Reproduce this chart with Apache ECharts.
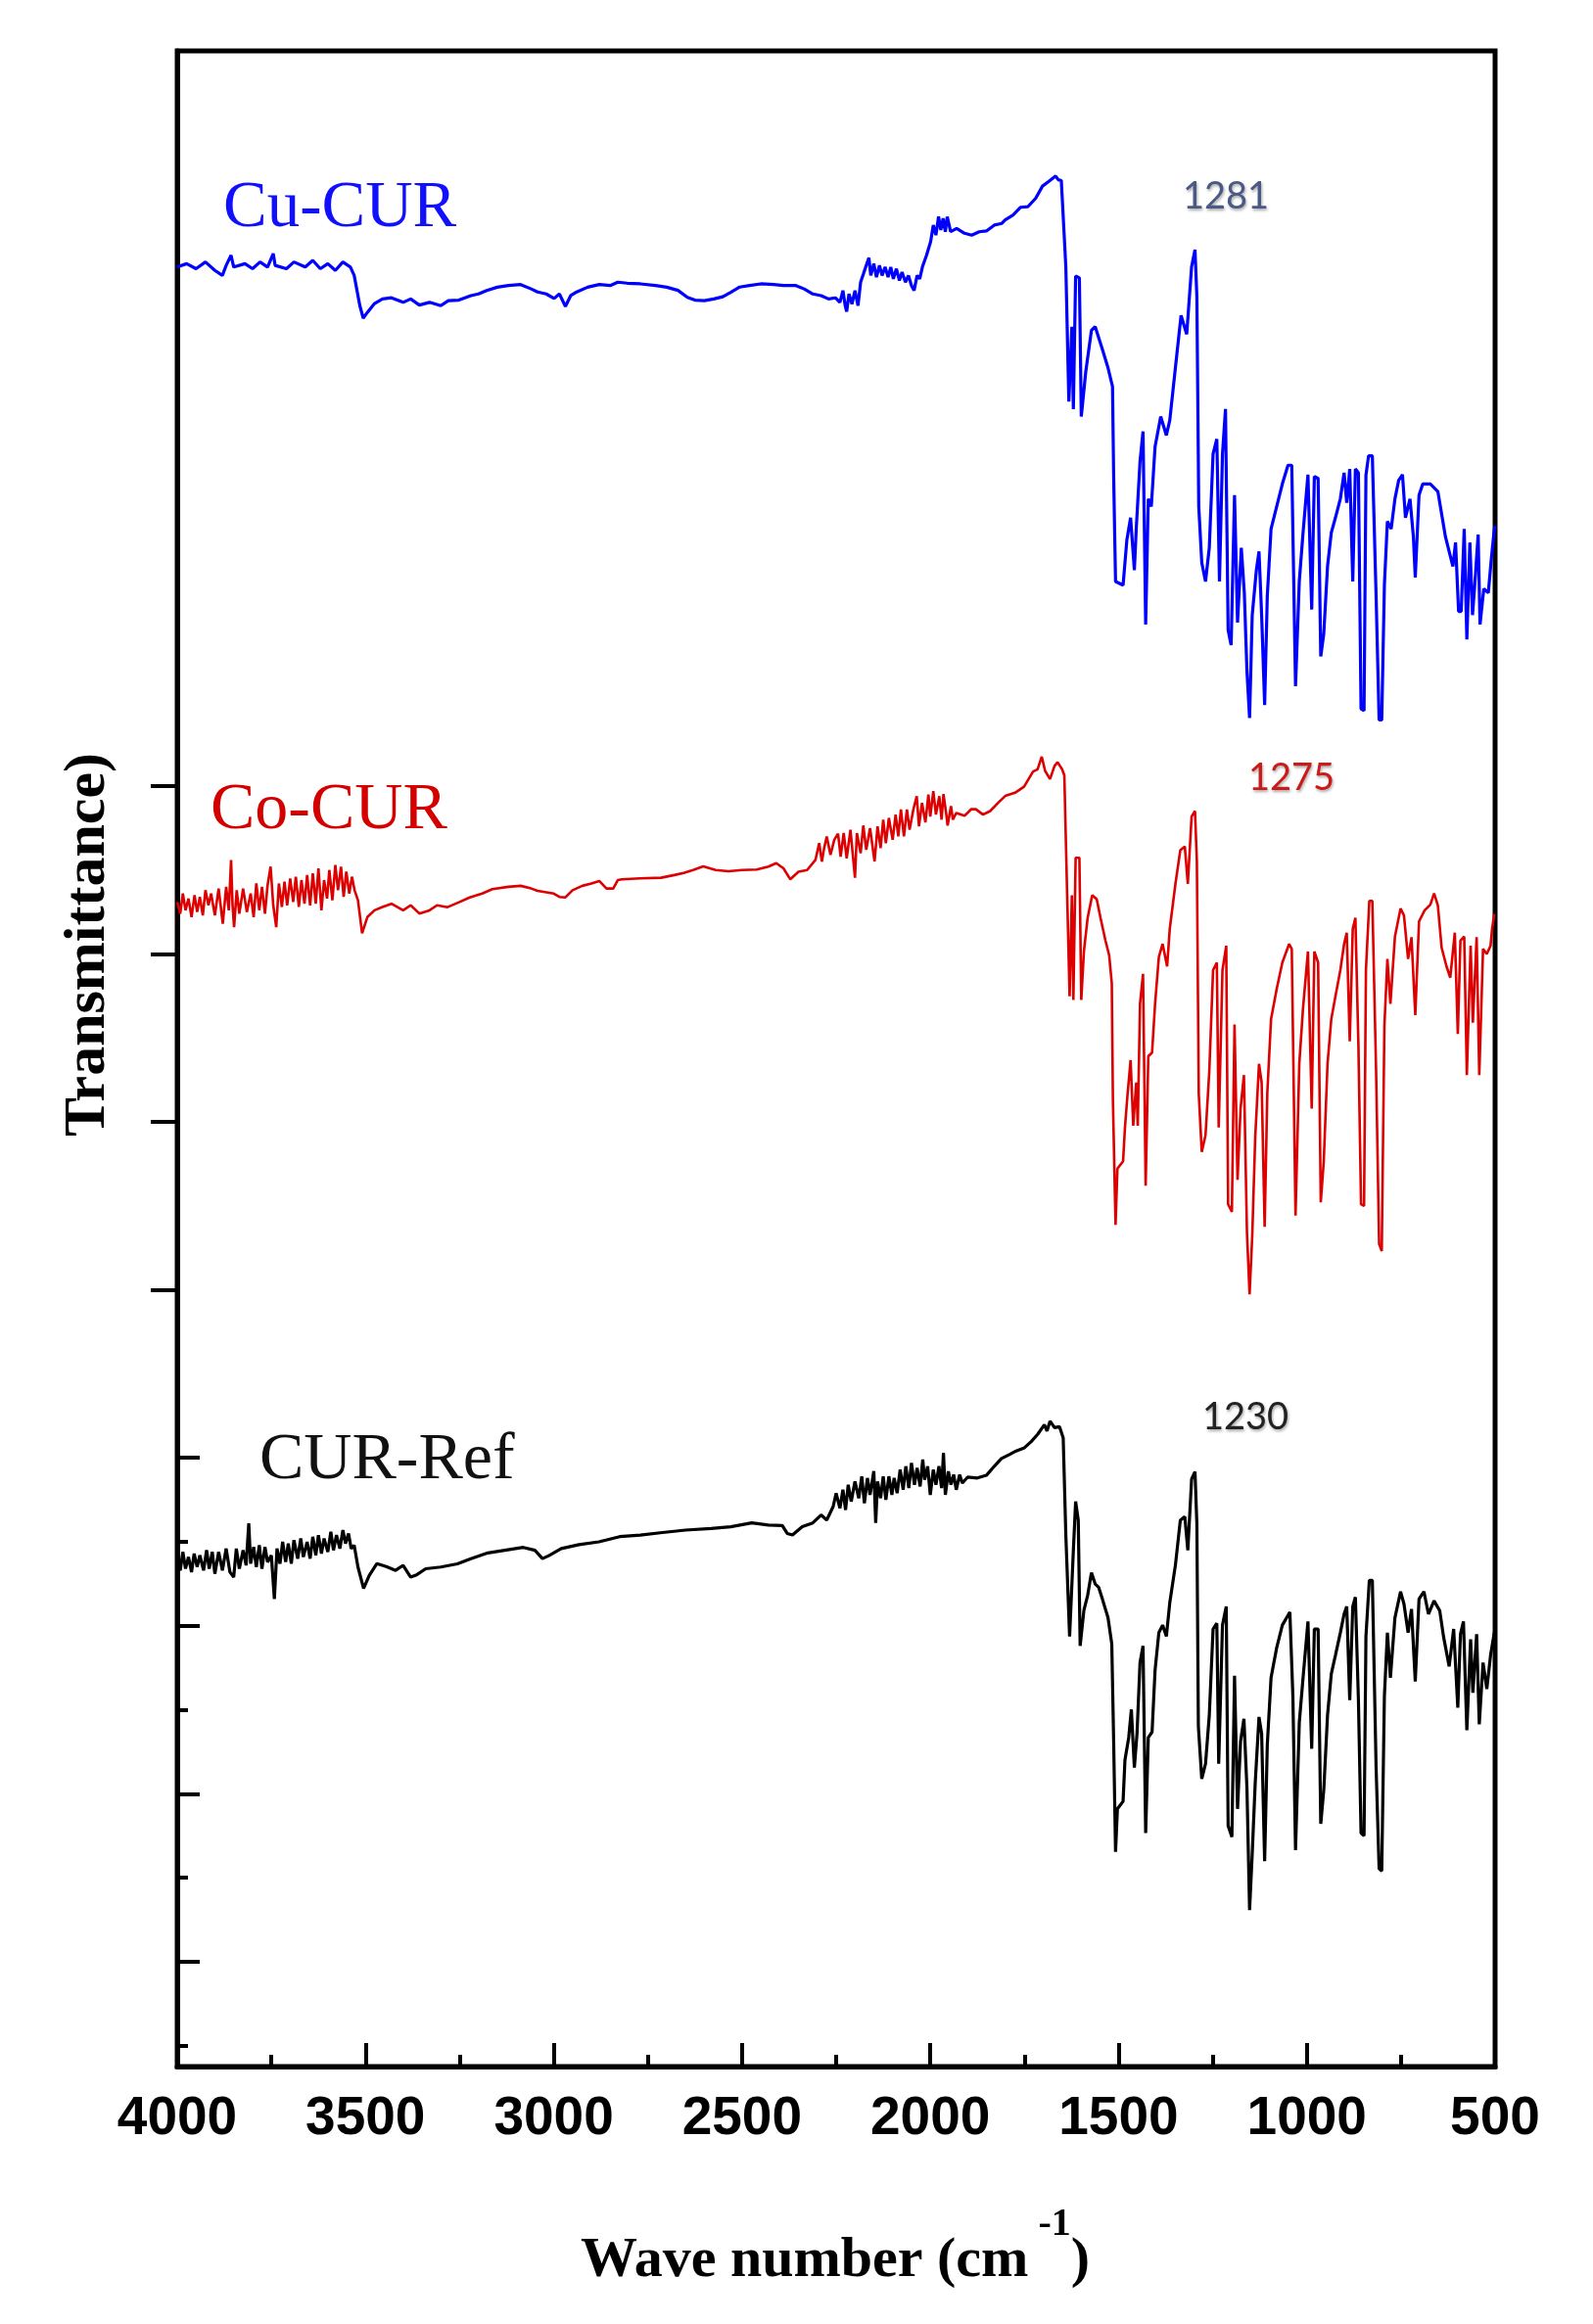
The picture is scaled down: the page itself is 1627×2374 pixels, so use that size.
<!DOCTYPE html>
<html>
<head>
<meta charset="utf-8">
<script src="https://cdn.jsdelivr.net/npm/echarts@6/dist/echarts.min.js"></script>
<style>
html,body{margin:0;padding:0;background:#fff;}
#chart{width:1627px;height:2374px;}
</style>
</head>
<body>
<div id="chart"></div>
<script>
// x: wave number (cm-1), y: transmittance (arbitrary, stacked offsets)
const xTicks = [500, 1000, 1500, 2000, 2500, 3000, 3500, 4000];
const yOuterTicks = [50, 60, 70, 80];
const yInnerMajorTicks = [10, 20, 30, 40];
const yInnerMinorTicks = [5, 15, 25, 35];

const cuCurData = [
[4000,110.9],[3975,111.1],[3950,110.8],[3925,111.2],[3900,110.7],[3880,110.4],[3870,111.0],[3857,111.6],[3850,110.9],[3820,111.1],[3800,110.8],[3780,111.2],[3760,110.9],[3745,111.7],[3740,111.0],[3710,110.8],[3690,111.2],[3660,110.9],[3640,111.3],[3620,110.8],[3600,111.1],[3580,110.7],[3560,111.2],[3540,110.9],[3530,110.4],[3515,108.6],[3506,107.86],[3495,108.2],[3476,108.73],[3455,109.0],[3431,109.07],[3400,108.8],[3380,109.0],[3357,108.64],[3330,108.8],[3300,108.6],[3280,108.9],[3252,108.93],[3220,109.2],[3200,109.3],[3178,109.51],[3150,109.7],[3120,109.8],[3088,109.86],[3060,109.6],[3043,109.42],[3020,109.3],[2999,109.03],[2985,109.3],[2969,108.56],[2955,109.2],[2939,109.42],[2910,109.7],[2879,109.86],[2850,109.8],[2830,110.0],[2805,109.94],[2770,109.9],[2730,109.80],[2700,109.7],[2670,109.51],[2645,109.1],[2625,108.93],[2600,108.9],[2575,109.0],[2551,109.13],[2530,109.4],[2506,109.71],[2480,109.8],[2450,109.9],[2416,109.86],[2390,109.8],[2357,109.80],[2335,109.6],[2312,109.30],[2290,109.2],[2270,109.0],[2252,109.07],[2240,108.8],[2232,109.5],[2226,108.6],[2222,108.25],[2216,109.3],[2208,108.7],[2200,109.5],[2192,108.6],[2185,110.0],[2178,110.46],[2170,111.0],[2163,111.45],[2158,110.4],[2150,111.1],[2143,110.3],[2135,111.0],[2128,110.4],[2120,110.9],[2112,110.3],[2105,110.9],[2098,110.2],[2090,110.8],[2082,110.1],[2075,110.6],[2066,110.0],[2058,110.4],[2050,109.8],[2043,109.51],[2035,110.4],[2028,110.2],[2021,110.9],[2010,111.6],[1999,112.42],[1992,113.4],[1985,112.8],[1978,113.9],[1972,113.1],[1966,113.8],[1960,113.0],[1955,113.9],[1946,113.01],[1930,113.2],[1909,112.91],[1890,112.8],[1870,113.0],[1851,113.05],[1830,113.4],[1810,113.5],[1801,113.71],[1780,114.0],[1760,114.46],[1741,114.49],[1720,115.0],[1702,115.72],[1685,116.0],[1667,116.32],[1660,116.1],[1652,116.05],
[1640,110.92],[1632,102.89],[1624,107.35],[1620,102.44],[1614,110.37],[1604,110.25],[1599,102.0],[1587,104.68],[1572,107.13],[1562,107.35],[1543,106.01],[1528,104.9],[1516,103.78],[1513,98.43],[1508,92.18],[1488,91.96],[1478,94.64],[1468,95.98],[1458,92.85],[1453,95.31],[1443,99.32],[1435,101.11],[1428,89.62],[1421,97.10],[1413,96.65],[1403,100.21],[1388,102.0],[1373,100.88],[1364,101.77],[1348,105.12],[1334,108.02],[1319,106.9],[1306,110.92],[1297,111.93],[1292,109.14],[1287,96.65],[1279,93.30],[1269,92.18],[1259,94.19],[1249,99.77],[1239,100.66],[1232,92.18],[1224,99.77],[1216,102.45],[1209,89.29],[1201,88.39],[1192,97.32],[1184,89.74],[1174,94.19],[1166,91.52],[1159,86.83],[1152,84.05],[1145,90.18],[1134,92.85],[1127,93.97],[1120,90.18],[1112,84.83],[1105,91.30],[1095,95.31],[1080,96.65],[1065,97.99],[1050,99.10],[1040,99.10],[1030,85.94],[1020,92.18],[1010,95.09],[997,98.54],[987,90.51],[980,98.43],[970,98.32],[963,87.72],[955,89.06],[945,93.08],[935,95.09],[924,95.98],[911,97.10],[901,98.65],[894,96.87],[886,98.88],[878,92.18],[871,98.88],[863,98.65],[856,84.60],[848,84.49],[843,98.5],[836,99.66],[826,99.66],[816,91.30],[808,83.94],[801,83.94],[794,91.96],[786,95.76],[776,95.31],[766,97.10],[756,98.21],[746,98.54],[738,95.98],[726,97.10],[717,94.86],[712,92.41],[702,97.32],[692,97.99],[672,97.99],[652,97.54],[642,96.20],[632,94.86],[622,93.97],[612,93.08],[605,94.5],[597,90.40],[590,90.40],[582,95.31],[575,88.73],[567,94.5],[560,90.18],[552,92.63],[545,94.97],[540,89.62],[530,91.74],[518,91.5],[510,93.53],[503,95.09],[500,95.5]
];

const coCurData = [
[4000,73.1],[3992,72.4],[3985,73.6],[3978,72.6],[3970,73.3],[3962,72.2],[3954,73.5],[3947,72.5],[3940,73.4],[3932,72.3],[3925,73.8],[3917,72.9],[3910,73.6],[3900,72.3],[3890,73.9],[3879,71.8],[3870,74.0],[3863,72.6],[3857,75.6],[3853,72.9],[3849,71.6],[3842,73.8],[3835,72.4],[3825,73.9],[3815,72.5],[3805,73.6],[3797,72.2],[3790,74.2],[3782,72.6],[3775,74.0],[3767,72.4],[3760,74.1],[3752,75.2],[3745,72.9],[3737,71.6],[3730,74.2],[3722,72.8],[3715,74.3],[3708,72.9],[3700,74.5],[3692,73.1],[3685,74.6],[3677,72.8],[3670,74.4],[3662,73.0],[3655,74.7],[3647,72.9],[3640,74.8],[3632,73.0],[3625,75.1],[3617,72.6],[3610,74.4],[3602,73.3],[3596,75.0],[3588,73.2],[3580,75.3],[3573,73.8],[3565,75.2],[3558,73.4],[3551,74.9],[3543,73.6],[3536,74.6],[3529,73.8],[3520,73.2],[3509,71.24],[3495,72.2],[3476,72.60],[3455,72.8],[3431,72.99],[3400,72.6],[3380,72.9],[3357,72.41],[3330,72.6],[3310,72.9],[3282,72.79],[3250,73.1],[3223,73.37],[3190,73.6],[3163,73.86],[3120,74.0],[3088,74.06],[3060,73.9],[3043,73.76],[3000,73.6],[2985,73.4],[2969,73.37],[2950,73.8],[2924,74.06],[2900,74.2],[2879,74.35],[2860,73.9],[2842,73.9],[2830,74.4],[2819,74.45],[2770,74.5],[2715,74.54],[2680,74.7],[2655,74.83],[2630,75.0],[2603,75.22],[2570,75.0],[2536,74.93],[2500,75.0],[2461,75.03],[2430,75.2],[2409,75.41],[2390,75.1],[2372,74.45],[2350,74.9],[2327,75.0],[2305,75.6],[2295,76.6],[2288,75.5],[2282,76.3],[2275,77.0],[2265,75.9],[2255,76.8],[2245,77.16],[2238,75.8],[2230,77.2],[2222,75.7],[2212,77.4],[2200,74.54],[2195,77.2],[2185,76.0],[2178,77.65],[2170,76.2],[2160,77.5],[2148,75.51],[2140,77.6],[2132,76.3],[2125,78.0],[2118,76.6],[2110,78.1],[2100,76.8],[2092,78.3],[2085,77.0],[2078,78.6],[2070,77.0],[2062,78.6],[2055,77.4],[2045,78.6],[2036,79.40],[2030,77.6],[2022,79.0],[2013,77.84],[2005,79.5],[2000,78.18],[1992,79.7],[1985,78.3],[1976,79.4],[1970,78.0],[1965,79.52],[1958,78.4],[1954,77.65],[1945,78.8],[1940,78.0],[1931,78.4],[1909,78.23],[1891,78.63],[1879,78.62],[1860,78.3],[1841,78.51],[1820,79.0],[1801,79.41],[1775,79.6],[1751,79.96],[1727,80.86],[1715,81.0],[1704,81.75],[1695,80.9],[1682,80.41],[1670,81.2],[1662,81.42],[1650,81.0],[1644,80.64],
[1639,75.84],[1630,67.48],[1624,73.50],[1620,67.26],[1614,75.73],[1604,75.73],[1599,67.26],[1592,70.15],[1582,72.16],[1570,73.50],[1558,73.27],[1548,72.16],[1535,70.82],[1525,69.93],[1518,68.26],[1515,61.34],[1508,53.87],[1503,57.22],[1488,57.66],[1483,59.67],[1476,61.68],[1468,63.68],[1461,59.78],[1453,62.35],[1449,59.78],[1443,67.03],[1435,68.82],[1428,56.21],[1421,63.91],[1411,64.13],[1403,67.03],[1393,69.82],[1383,70.60],[1371,69.26],[1364,71.49],[1349,74.17],[1336,76.18],[1324,76.40],[1316,74.17],[1306,78.18],[1297,78.51],[1292,75.51],[1287,61.68],[1279,58.22],[1269,59.22],[1259,63.02],[1249,69.04],[1239,69.49],[1234,59.67],[1224,69.04],[1214,70.49],[1209,55.10],[1199,54.65],[1192,65.80],[1184,56.55],[1176,60.79],[1167,62.79],[1159,53.42],[1152,49.74],[1145,53.20],[1137,59.11],[1127,63.46],[1120,62.35],[1112,53.75],[1105,61.68],[1095,66.13],[1080,67.92],[1065,69.49],[1047,70.60],[1040,70.3],[1030,54.43],[1020,63.46],[1010,66.80],[997,70.15],[987,60.79],[980,70.15],[970,69.49],[963,55.21],[955,57.66],[945,63.46],[935,66.13],[924,67.48],[911,69.04],[901,70.60],[894,71.27],[886,64.80],[878,71.49],[871,72.16],[863,64.58],[856,55.10],[848,55.0],[843,69.04],[834,73.16],[826,73.16],[816,63.02],[808,52.75],[801,52.31],[794,65.69],[786,69.71],[778,67.03],[766,71.04],[751,72.71],[742,72.3],[731,69.71],[722,71.0],[712,66.36],[702,71.94],[687,72.60],[672,72.94],[662,73.61],[652,72.9],[642,70.38],[629,69.26],[619,68.59],[607,71.27],[599,65.24],[592,70.8],[582,71.04],[575,62.79],[565,70.5],[559,65.91],[549,71.0],[542,62.79],[532,70.3],[522,70.0],[512,70.5],[508,71.49],[502,72.38]
];

const curRefData = [
[4000,33.9],[3992,33.3],[3985,34.4],[3978,33.4],[3970,34.1],[3962,33.2],[3955,34.3],[3947,33.5],[3940,34.2],[3930,33.3],[3922,34.5],[3915,33.4],[3907,34.4],[3900,33.1],[3890,34.4],[3880,33.3],[3870,34.6],[3860,33.2],[3850,32.9],[3843,34.6],[3835,33.4],[3825,34.5],[3817,33.6],[3810,36.1],[3805,33.7],[3797,34.7],[3790,33.5],[3782,34.8],[3775,33.4],[3767,34.7],[3760,33.8],[3750,34.2],[3742,31.6],[3735,34.6],[3727,33.7],[3720,35.0],[3712,33.8],[3705,34.9],[3697,33.7],[3690,35.1],[3680,34.0],[3672,35.2],[3665,34.1],[3655,35.0],[3647,34.0],[3640,35.3],[3632,34.2],[3625,35.4],[3617,34.3],[3610,35.2],[3600,34.4],[3592,35.6],[3585,34.5],[3577,35.4],[3568,34.6],[3560,35.7],[3553,34.9],[3545,35.5],[3538,34.6],[3530,34.8],[3520,33.5],[3505,32.23],[3490,33.0],[3470,33.7],[3445,33.53],[3420,33.3],[3400,33.6],[3380,32.9],[3364,33.04],[3340,33.4],[3300,33.5],[3256,33.69],[3220,34.0],[3175,34.34],[3130,34.5],[3081,34.67],[3050,34.5],[3030,34.0],[3013,34.18],[2980,34.6],[2933,34.83],[2880,35.0],[2825,35.31],[2770,35.4],[2717,35.54],[2650,35.7],[2582,35.80],[2530,35.9],[2474,36.13],[2430,36.0],[2393,35.97],[2380,35.5],[2366,35.41],[2340,35.9],[2312,36.13],[2290,36.6],[2275,36.3],[2258,37.1],[2250,37.9],[2240,37.0],[2232,38.1],[2225,36.9],[2218,38.4],[2210,37.4],[2200,38.6],[2190,37.6],[2182,38.9],[2175,37.3],[2167,38.8],[2160,37.8],[2150,39.21],[2145,36.13],[2140,38.6],[2132,37.6],[2125,38.9],[2118,37.5],[2110,38.9],[2102,37.8],[2096,38.8],[2088,37.9],[2080,39.3],[2072,38.1],[2065,39.5],[2057,38.2],[2050,39.7],[2042,38.4],[2035,39.4],[2027,38.3],[2020,39.9],[2015,38.7],[2007,39.5],[2000,37.8],[1992,39.3],[1985,38.4],[1977,39.5],[1970,38.2],[1965,40.3],[1960,37.8],[1952,39.2],[1945,38.4],[1938,39.0],[1931,38.1],[1922,39.0],[1915,38.5],[1901,38.85],[1875,38.8],[1851,38.96],[1830,39.5],[1811,39.96],[1790,40.2],[1772,40.41],[1750,40.6],[1732,40.97],[1715,41.4],[1697,41.97],[1690,41.6],[1682,42.19],[1670,41.8],[1657,41.86],[1647,41.19],
[1640,35.39],[1630,29.37],[1620,34.50],[1614,37.40],[1607,36.28],[1602,28.81],[1592,30.93],[1582,31.82],[1572,33.16],[1562,32.49],[1553,32.3],[1543,31.60],[1528,30.48],[1518,28.92],[1513,23.12],[1508,16.54],[1503,19.10],[1488,19.55],[1483,22.01],[1473,23.35],[1466,25.02],[1458,21.56],[1451,23.57],[1443,27.81],[1435,28.81],[1428,17.66],[1421,23.35],[1411,23.68],[1403,27.36],[1393,29.59],[1383,30.04],[1373,29.37],[1364,31.37],[1349,33.61],[1336,36.28],[1324,36.50],[1316,34.50],[1306,38.73],[1297,39.18],[1292,36.06],[1288,24.01],[1279,20.89],[1269,21.79],[1259,24.68],[1249,29.81],[1239,30.15],[1234,21.79],[1224,30.04],[1214,31.15],[1209,18.10],[1199,17.43],[1192,27.03],[1184,19.10],[1176,23.12],[1167,24.46],[1159,20.33],[1152,13.08],[1145,16.43],[1137,20.67],[1127,24.57],[1120,23.57],[1112,15.99],[1105,22.90],[1095,26.91],[1080,28.70],[1065,30.04],[1045,30.82],[1037,25.80],[1030,16.65],[1020,24.24],[1010,26.91],[997,30.26],[987,22.68],[980,29.81],[970,29.81],[963,18.21],[955,20.22],[945,24.68],[935,27.14],[924,28.25],[911,29.59],[901,30.70],[894,31.15],[886,25.57],[878,31.15],[871,31.71],[863,25.6],[856,17.66],[848,17.5],[843,29.37],[834,32.71],[826,32.71],[816,21.56],[808,15.54],[801,15.4],[794,25.80],[786,29.59],[778,26.91],[766,30.48],[751,32.04],[742,31.3],[731,29.59],[722,31.0],[712,26.69],[702,31.60],[689,32.04],[677,30.70],[662,31.49],[647,30.9],[637,29.37],[622,27.58],[610,29.81],[599,25.13],[592,29.5],[584,30.26],[575,23.79],[565,29.2],[559,26.02],[549,29.5],[542,24.13],[532,27.81],[522,26.24],[512,28.25],[502,29.59]
];

const Y_MIN = 3.76, Y_MAX = 123.77;

const chart = echarts.init(document.getElementById('chart'), null, {renderer: 'canvas'});

function yAx(ticks, inside, len, showLine) {
  return {
    type: 'value', min: Y_MIN, max: Y_MAX, position: 'left',
    axisLine: {show: showLine, onZero: false, lineStyle: {color: '#000', width: 5}},
    axisTick: {show: true, inside: inside, length: len, customValues: ticks, lineStyle: {color: '#000', width: 4}},
    axisLabel: {show: false},
    splitLine: {show: false}
  };
}

const option = {
  backgroundColor: '#fff',
  animation: false,
  grid: {left: 181, right: 100, top: 52, bottom: 263, show: true, borderColor: '#000', borderWidth: 5, backgroundColor: 'transparent'},
  xAxis: {
    type: 'value', min: 500, max: 4000, interval: 500, inverse: true,
    axisLine: {show: true, onZero: false, lineStyle: {color: '#000', width: 5}},
    axisTick: {show: true, inside: true, length: 24, lineStyle: {color: '#000', width: 4}},
    minorTick: {show: true, splitNumber: 2, length: 12, lineStyle: {color: '#000', width: 4}},
    axisLabel: {color: '#000', fontSize: 55, fontWeight: 'bold', fontFamily: 'Liberation Sans', margin: 26,
      customValues: xTicks, formatter: function (v) { return String(v); }},
    splitLine: {show: false}, minorSplitLine: {show: false}
  },
  yAxis: [
    yAx(yOuterTicks, false, 27, true),
    yAx(yInnerMajorTicks, true, 23, false),
    yAx(yInnerMinorTicks, true, 11, false)
  ],
  series: [
    {name: 'Cu-CUR', type: 'line', data: cuCurData, showSymbol: false, sampling: 'none',
     lineStyle: {color: '#0000ff', width: 3.2}, itemStyle: {color: '#0000ff'}},
    {name: 'Co-CUR', type: 'line', data: coCurData, showSymbol: false, sampling: 'none',
     lineStyle: {color: '#dd0000', width: 2.6}, itemStyle: {color: '#dd0000'}},
    {name: 'CUR-Ref', type: 'line', data: curRefData, showSymbol: false, sampling: 'none',
     lineStyle: {color: '#000000', width: 3.2}, itemStyle: {color: '#000'}}
  ],
  graphic: [
    {type: 'text', left: 228, top: 180, style: {text: 'Cu-CUR', font: '67px "Liberation Serif"', fill: '#1010ff'}},
    {type: 'text', left: 215, top: 794, style: {text: 'Co-CUR', font: '68px "Liberation Serif"', fill: '#d40000'}},
    {type: 'text', left: 265, top: 1458, style: {text: 'CUR-Ref', font: '68px "Liberation Serif"', fill: '#111'}},
    {type: 'text', x: 1252, y: 201, style: {text: '1281', font: '38px Lato', fill: '#4a5a85', align: 'center', verticalAlign: 'middle',
      textShadowColor: 'rgba(0,0,0,0.35)', textShadowBlur: 3, textShadowOffsetX: 1, textShadowOffsetY: 2}},
    {type: 'text', x: 1319, y: 795, style: {text: '1275', font: '38px Lato', fill: '#cc1a1a', align: 'center', verticalAlign: 'middle',
      textShadowColor: 'rgba(0,0,0,0.35)', textShadowBlur: 3, textShadowOffsetX: 1, textShadowOffsetY: 2}},
    {type: 'text', x: 1272, y: 1448, style: {text: '1230', font: '38px Lato', fill: '#222', align: 'center', verticalAlign: 'middle',
      textShadowColor: 'rgba(0,0,0,0.35)', textShadowBlur: 3, textShadowOffsetX: 1, textShadowOffsetY: 2}},
    {type: 'text', x: 90, y: 965, rotation: Math.PI / 2,
      style: {text: 'Transmittance)', font: 'bold 60px "Liberation Serif"', fill: '#000', align: 'center', verticalAlign: 'middle'}},
    {type: 'text', x: 853, y: 2296,
      style: {text: '{a|Wave number (cm}{s| -1}{a|)}', align: 'center', verticalAlign: 'middle', fill: '#000',
        rich: {
          a: {font: 'bold 58px "Liberation Serif"', fill: '#000', lineHeight: 86, verticalAlign: 'bottom'},
          s: {font: 'bold 40px "Liberation Serif"', fill: '#000', lineHeight: 86, verticalAlign: 'top'}
        }}}
  ]
};
chart.setOption(option);
</script>
</body>
</html>
